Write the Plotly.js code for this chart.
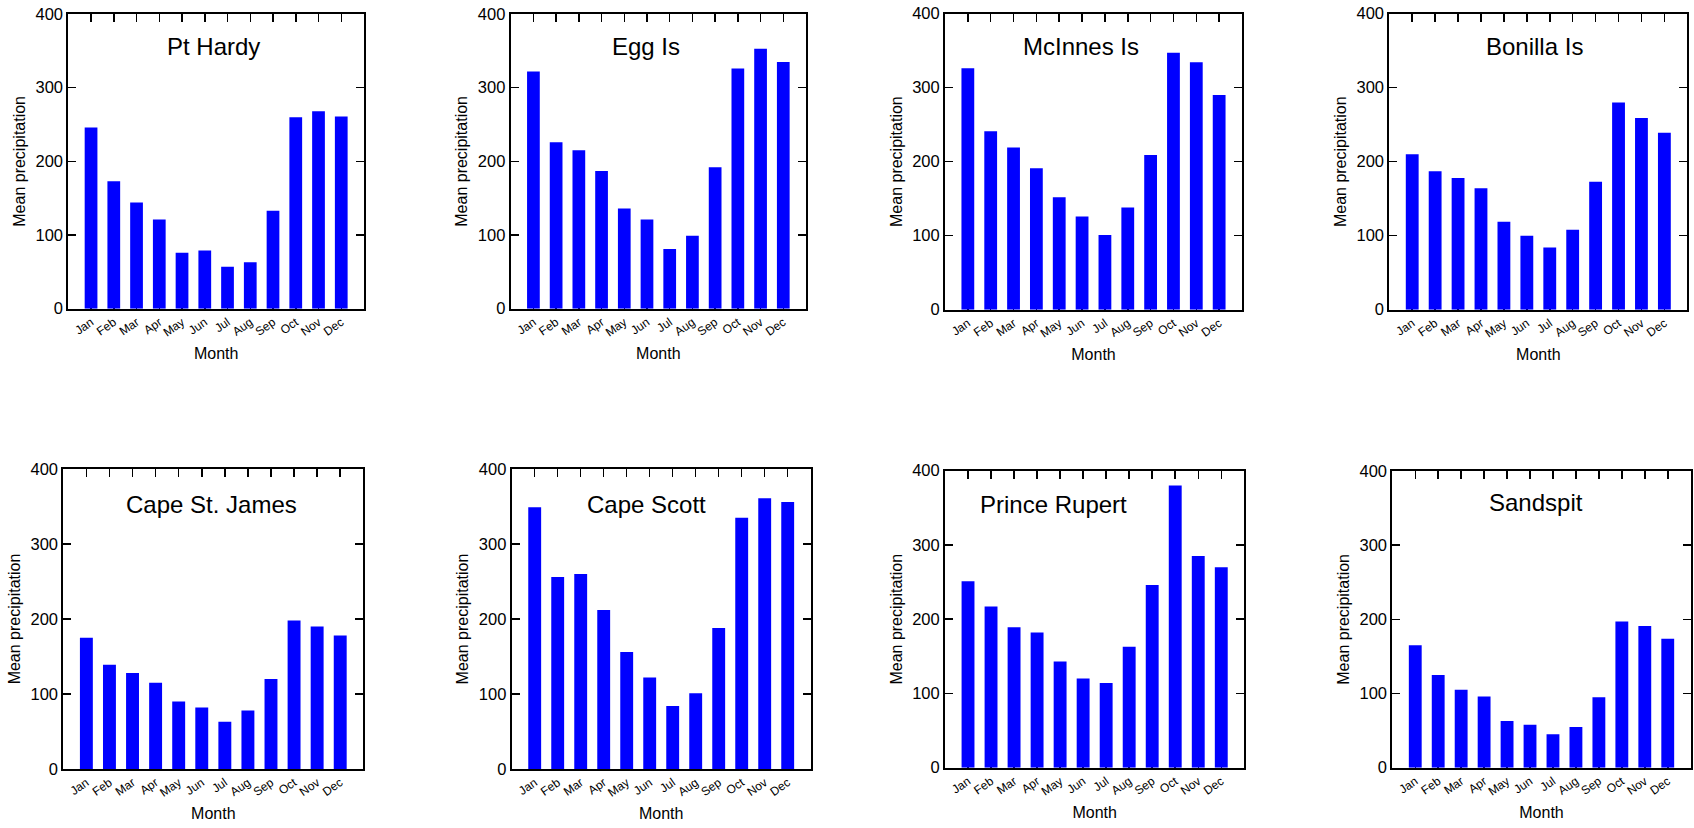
<!DOCTYPE html>
<html>
<head>
<meta charset="utf-8">
<script src="https://cdn.plot.ly/plotly-3.0.1.min.js"></script>
<style>
html,body{margin:0;padding:0;background:#fff;}
#chart{width:1694px;height:828px;}
</style>
</head>
<body>
<div id="chart"></div>
<script>
// ---- data ----
const months = ["Jan","Feb","Mar","Apr","May","Jun","Jul","Aug","Sep","Oct","Nov","Dec"];
const stations = ["Pt Hardy","Egg Is","McInnes Is","Bonilla Is","Cape St. James","Cape Scott","Prince Rupert","Sandspit"];
const ptHardy      = [246,173,144,121,76,79,57,63,133,260,268,261];
const eggIs        = [322,226,215,187,136,121,81,99,192,326,353,335];
const mcInnesIs    = [326,241,219,191,152,126,101,138,209,347,334,290];
const bonillaIs    = [210,187,178,164,119,100,84,108,173,280,259,239];
const capeStJames  = [175,139,128,115,90,82,63,78,120,198,190,178];
const capeScott    = [349,256,260,212,156,122,84,101,188,335,361,356];
const princeRupert = [251,217,189,182,143,120,114,163,246,380,285,270];
const sandspit     = [165,125,105,96,63,58,45,55,95,197,191,174];
const yTickVals = [0,100,200,300,400];
const yTitle = "Mean precipitation";
const xTitle = "Month";

const series = [ptHardy, eggIs, mcInnesIs, bonillaIs, capeStJames, capeScott, princeRupert, sandspit];

// ---- layout (pixel boxes of each plot area) ----
const W = 1694, H = 828;
const boxes = [
  [68.3, 364.0, 14.0, 308.7],
  [510.7, 806.0, 14.0, 308.7],
  [945.0, 1242.0, 13.5, 309.7],
  [1389.3, 1687.3, 13.7, 309.7],
  [63.3, 363.3, 469.0, 769.0],
  [511.7, 810.7, 469.0, 769.0],
  [945.0, 1244.3, 470.7, 767.7],
  [1392.3, 1690.7, 471.0, 767.7]
];
const titleX = [0.492, 0.458, 0.458, 0.488, 0.495, 0.452, 0.361, 0.48];
const titleYpx = [33, 33, 33, 33, 36, 36, 34, 31];

const FONT = "Arial, 'Liberation Sans', sans-serif";
const traces = [];
const layout = {
  width: W, height: H,
  margin: {l:0, r:0, t:0, b:0},
  paper_bgcolor: "#fff", plot_bgcolor: "#fff",
  showlegend: false,
  font: {family: FONT, color: "#000"},
  annotations: []
};

stations.forEach((name, i) => {
  const n = i === 0 ? "" : String(i + 1);
  const b = boxes[i];
  traces.push({
    type: "bar",
    x: months,
    y: series[i],
    xaxis: "x" + n,
    yaxis: "y" + n,
    width: 0.56,
    marker: {color: "#0000FF", line: {width: 0}},
    hoverinfo: "x+y"
  });
  layout["xaxis" + n] = {
    domain: [b[0] / W, b[1] / W],
    anchor: "y" + n,
    type: "category",
    range: [-1, 12],
    showgrid: false, zeroline: false,
    showline: true, linewidth: 2, linecolor: "#000",
    mirror: "ticks",
    ticks: "inside", ticklen: 8, tickwidth: 1.5, tickcolor: "#000",
    tickangle: -35,
    tickfont: {size: 12, family: FONT},
    layer: "below traces",
    title: {text: xTitle, font: {size: 16, family: FONT}, standoff: 9},
    fixedrange: true
  };
  layout["yaxis" + n] = {
    domain: [1 - b[3] / H, 1 - b[2] / H],
    anchor: "x" + n,
    range: [0, 400],
    tickvals: yTickVals,
    showgrid: false, zeroline: false,
    showline: true, linewidth: 2, linecolor: "#000",
    mirror: "ticks",
    ticks: "inside", ticklen: 8, tickwidth: 1.5, tickcolor: "#000",
    tickfont: {size: 16.5, family: FONT},
    layer: "below traces",
    title: {text: yTitle, font: {size: 16, family: FONT}, standoff: 6},
    fixedrange: true
  };
  const h = b[3] - b[2];
  layout.annotations.push({
    text: name,
    xref: "x" + n + " domain", yref: "y" + n + " domain",
    x: titleX[i], y: 1 - titleYpx[i] / h,
    xanchor: "center", yanchor: "middle",
    showarrow: false,
    font: {size: 24, family: FONT, color: "#000"}
  });
});

Plotly.newPlot("chart", traces, layout, {displayModeBar: false, staticPlot: true});
</script>
</body>
</html>
